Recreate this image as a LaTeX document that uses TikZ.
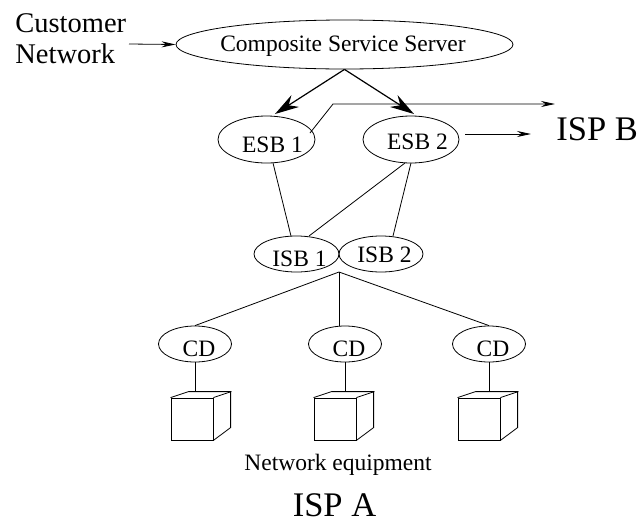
\documentclass[tikz,border=0pt]{standalone}
\usepackage{fontspec}
\setmainfont{Liberation Serif}
\usetikzlibrary{shapes.geometric}
\usetikzlibrary{arrows.meta}
\tikzstyle{bubble} = [draw, ellipse, inner sep=0]
\tikzstyle{device} = [draw, rectangle, inner sep=0, minimum size=42pt]
\tikzstyle{caption} = [inner sep=0, anchor=base, font=\fontsize{23.5}{28}\selectfont]
\tikzstyle{title} = [caption, font=\fontsize{34.5}{40}\selectfont]
\tikzset{>={Stealth[length=14pt,width=6pt]}}
\tikzset{bigarrow/.style={-{Stealth[length=24pt,width=14pt]}, line width=1.2pt}}

\begin{document}
\begin{tikzpicture}[x=1pt, y=-1pt, line width=0.8pt]
  \useasboundingbox (0,0) rectangle (638,520);
  % Servers
  \node[bubble, minimum width=337pt, minimum height=49pt] (css) at (344.5,44.5) {};
  \node[bubble, minimum width=97pt, minimum height=47pt] (esb1) at (266.5,139.5) {};
  \node[bubble, minimum width=96pt, minimum height=47pt] (esb2) at (411,139.5) {};
  \node[bubble, minimum width=85pt, minimum height=36pt] (isb1) at (296.5,254) {};
  \node[bubble, minimum width=84pt, minimum height=36pt] (isb2) at (381,254) {};
  % Labels
  \node[caption] (csstext) at (343,51) {Composite Service Server};
  \node[caption] (esb1text) at (272.5,152) {ESB 1};
  \node[caption] (esb2text) at (417.5,149) {ESB 2};
  \node[caption] (isb1text) at (299.5,266.5) {ISB 1};
  \node[caption] (isb2text) at (384.5,262.5) {ISB 2};
  \node[caption, font=\fontsize{28.5}{33}\selectfont, anchor=base west] (customer) at (15,32) {Customer};
  \node[caption, font=\fontsize{28.5}{33}\selectfont, anchor=base west] (network) at (15,63) {Network};
  \node[title, anchor=base west] (ispb) at (556,140) {ISP B};
  \node[caption] (equipment) at (338,470) {Network equipment};
  \node[title] (ispa) at (334.5,516) {ISP A};
  % Free ends
  \coordinate (hub) at (339,272);
  \coordinate (exit) at (310,133);
  \coordinate (bend) at (333,104);
  \coordinate (outb) at (555,104);
  \coordinate (oute) at (531,134);
  \coordinate (start) at (465,134);
  \coordinate (custout) at (129,44);
  % Arrows
  \draw[->] (custout) -- (css.west);
  \draw[bigarrow] (css.south) -- (275,114);
  \draw[bigarrow] (css.south) -- (414,114);
  \draw[->] (exit) -- (bend) -- (outb);
  \draw[->] (start) -- (oute);
  % Links
  \draw (273,163) -- (291,236);
  \draw (405,163) -- (309,236);
  \draw (411,163) -- (393,236);
  % Devices
  \foreach \n/\x/\bx in {1/195/192, 2/345/335, 3/489/479} {
    \node[bubble, minimum width=73pt, minimum height=36pt] (cd\n) at (\x,344) {};
    \node[caption] (cdtext\n) at (\x+4,356) {CD};
    \node[device] (box\n) at (\bx,419) {};
    \draw (box\n.north west) -- ++(18,-6) coordinate (back\n) -- ++(42,0) -- ++(0,36) -- (box\n.south east);
    \draw (box\n.north east) -- ++(18,-6);
    \draw (cd\n.south) -- (cd\n.south |- back\n);
  }
  \draw (hub) -- (cd1.north);
  \draw (hub) -- (339,326);
  \draw (hub) -- (cd3.north);
\end{tikzpicture}
\end{document}
